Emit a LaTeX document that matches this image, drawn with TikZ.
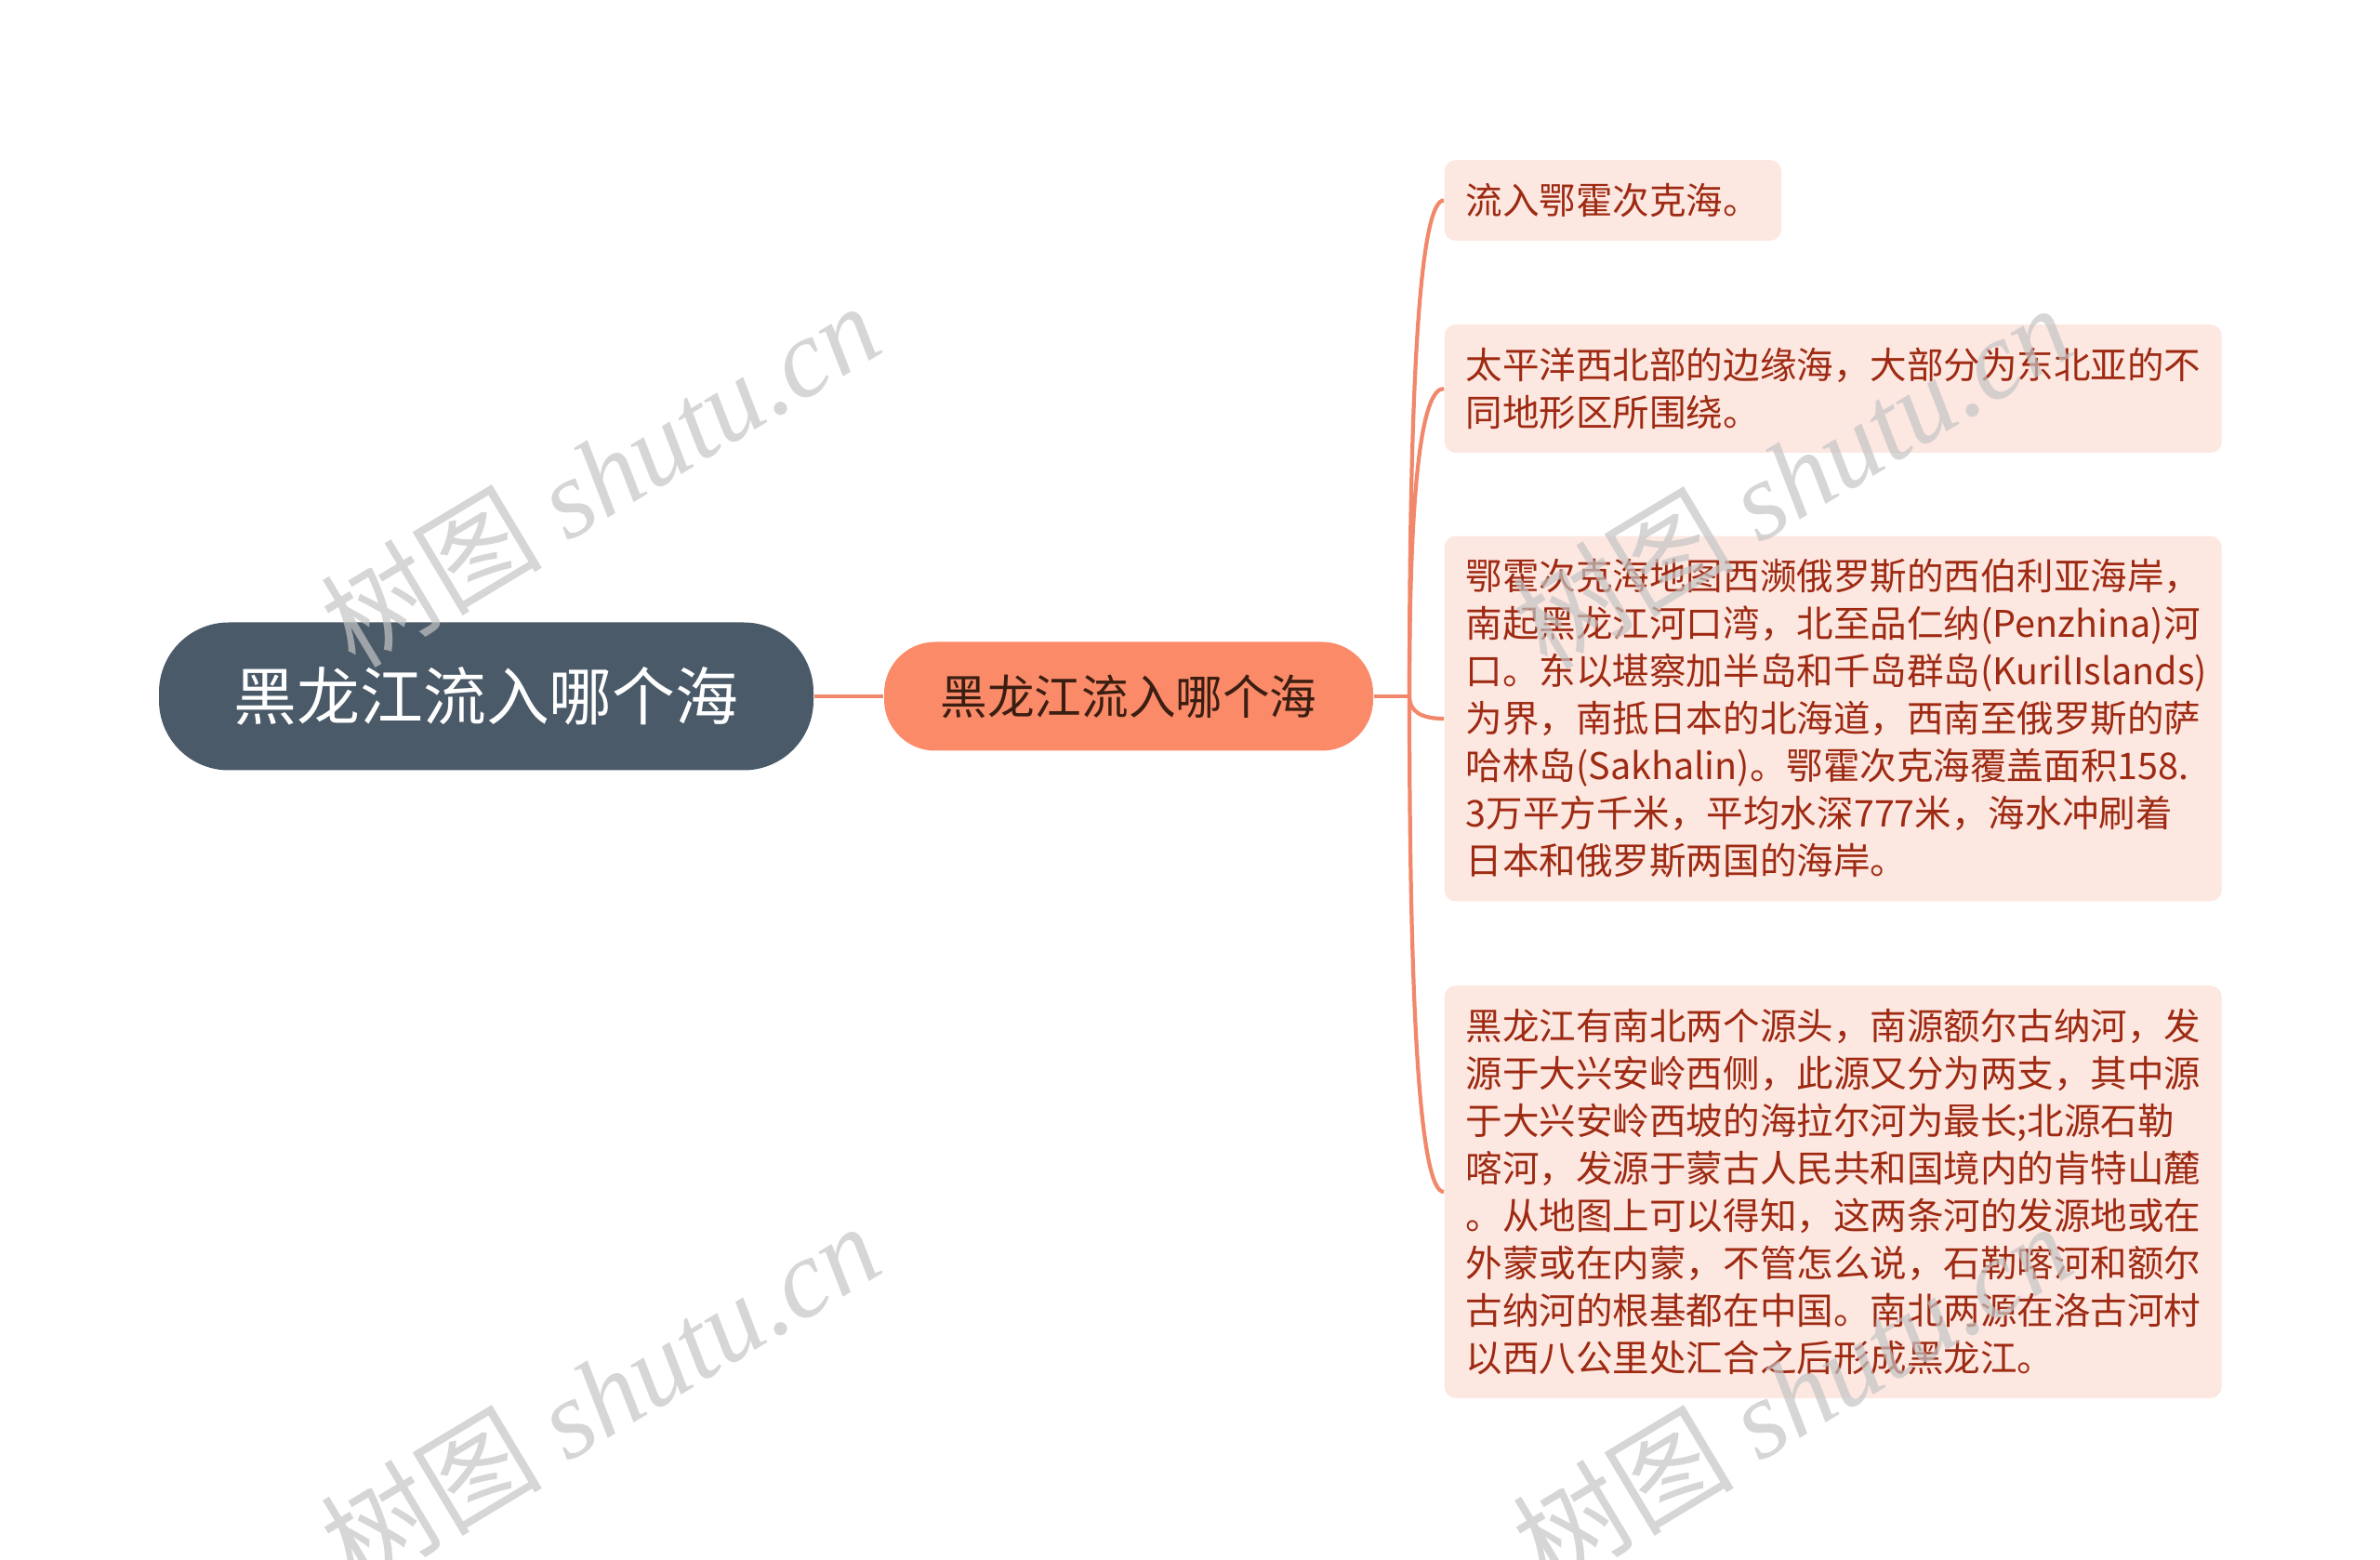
\documentclass[tikz,border=0pt]{standalone}
\usepackage{fontspec}
\setmainfont{Noto Sans CJK SC}
\newfontfamily\wmfont{Liberation Serif}
\usepackage{xcolor}
\usetikzlibrary{positioning,calc}

\definecolor{rootfill}{HTML}{4A5A69}
\definecolor{topicfill}{HTML}{FA8A68}
\definecolor{topictext}{HTML}{3B1E12}
\definecolor{leaffill}{HTML}{FDE7E1}
\definecolor{leaftext}{HTML}{9E2A12}
\definecolor{linkcol}{HTML}{F2886B}
\definecolor{wmgray}{HTML}{C4C4C4}

\tikzset{
    rootbox/.style={fill=rootfill, text=white, rounded corners=0.75cm,
        minimum width=7.04cm, minimum height=1.59cm,
        font=\fontsize{19.3}{23}\selectfont},
    topicbox/.style={fill=topicfill, text=topictext, rounded corners=0.55cm,
        minimum width=5.26cm, minimum height=1.17cm,
        font=\fontsize{14.4}{18}\selectfont},
    leafbox/.style={fill=leaffill, text=leaftext, rounded corners=0.12cm,
        anchor=west, align=left, inner xsep=0.23cm, inner ysep=0.25cm,
        font=\fontsize{11.25}{14.5}\selectfont},
    link/.style={draw=linkcol, line width=1.2pt},
    watermark/.style={text=wmgray, opacity=0.7, rotate=31,
        font=\fontsize{34}{38}\selectfont}
}

\begin{document}
\begin{tikzpicture}
    \useasboundingbox (0, 0) rectangle (25.6, -16.78);

    % Root and topic
    \node [rootbox] (root) at (5.23, -7.49) {黑龙江流入哪个海};
    \node [topicbox] (topic) at (12.14, -7.49) {黑龙江流入哪个海};
    \coordinate (hub) at (15.16, -7.49);

    % Leaves
    \node [leafbox] (leaf1) at (15.53, -2.155) {流入鄂霍次克海。};
    \node [leafbox, text width=7.9cm] (leaf2) at (15.53, -4.18)
        {太平洋西北部的边缘海，大部分为东北亚的不\\同地形区所围绕。};
    \node [leafbox, text width=7.9cm] (leaf3) at (15.53, -7.73)
        {鄂霍次克海地图西濒俄罗斯的西伯利亚海岸，\\
         南起黑龙江河口湾，北至品仁纳(Penzhina)河\\
         口。东以堪察加半岛和千岛群岛(KurilIslands)\\
         为界，南抵日本的北海道，西南至俄罗斯的萨\\
         哈林岛(Sakhalin)。鄂霍次克海覆盖面积158.\\
         3万平方千米，平均水深777米，海水冲刷着\\
         日本和俄罗斯两国的海岸。};
    \node [leafbox, text width=7.9cm] (leaf4) at (15.53, -12.82)
        {黑龙江有南北两个源头，南源额尔古纳河，发\\
         源于大兴安岭西侧，此源又分为两支，其中源\\
         于大兴安岭西坡的海拉尔河为最长;北源石勒\\
         喀河，发源于蒙古人民共和国境内的肯特山麓\\
         。从地图上可以得知，这两条河的发源地或在\\
         外蒙或在内蒙，不管怎么说，石勒喀河和额尔\\
         古纳河的根基都在中国。南北两源在洛古河村\\
         以西八公里处汇合之后形成黑龙江。};

    % Links
    \draw [link, line width=1.4pt] (root.east) -- (topic.west);
    \draw [link] (topic.east) -- (hub);
    \foreach \leaf in {leaf1, leaf2, leaf3, leaf4} {
        \draw [link] (hub) .. controls ($(hub)!0.667!(hub |- \leaf.west)$)
            and ($(\leaf.west)!0.667!(hub |- \leaf.west)$) .. (\leaf.west);
    }

    % Watermarks
    \foreach \x/\y in {6.45/-5.1, 6.45/-15.0, 19.27/-5.12, 19.27/-15.0} {
        \node [watermark] at (\x, \y) {树图 {\wmfont\itshape shutu.cn}};
    }
\end{tikzpicture}
\end{document}
